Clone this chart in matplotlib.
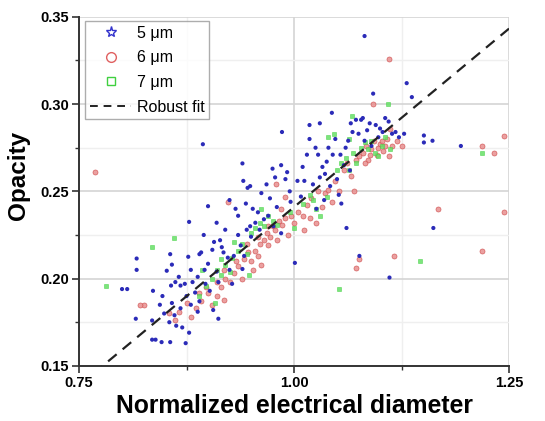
import matplotlib
matplotlib.use("Agg")
import matplotlib.pyplot as plt
from matplotlib.lines import Line2D
from matplotlib.ticker import MultipleLocator
import numpy as np

plt.rcParams['font.family'] = ['Liberation Sans', 'DejaVu Sans']

# ---- data ----
pts5 = [
    (0.800,0.194),(0.806,0.194),(0.817,0.2115),(0.817,0.205),(0.816,0.177),(0.835,0.176),(0.835,0.165),(0.839,0.165),
    (0.846,0.1636),(0.856,0.1636),(0.874,0.163),(0.870,0.172),(0.878,0.169),(0.855,0.175),(0.849,0.180),(0.844,0.185),
    (0.847,0.190),(0.857,0.196),(0.858,0.208),(0.856,0.214),(0.877,0.2125),(0.866,0.201),(0.873,0.197),(0.836,0.193),
    (0.852,0.2045),(0.862,0.198),(0.868,0.196),(0.880,0.205),(0.882,0.198),(0.888,0.201),(0.890,0.214),(0.892,0.215),
    (0.896,0.205),(0.885,0.192),(0.890,0.187),(0.897,0.197),(0.900,0.2085),(0.905,0.2165),(0.907,0.221),(0.914,0.222),
    (0.916,0.218),(0.910,0.204),(0.912,0.198),(0.902,0.193),(0.906,0.182),(0.912,0.177),(0.858,0.186),(0.861,0.179),
    (0.875,0.190),(0.880,0.185),(0.888,0.181),(0.863,0.173),(0.868,0.183),(0.895,0.225),(0.900,0.2415),(0.878,0.2325),
    (0.910,0.232),(0.920,0.228),(0.918,0.215),(0.923,0.212),(0.925,0.205),(0.930,0.213),(0.935,0.225),(0.938,0.219),
    (0.942,0.213),(0.940,0.2055),(0.928,0.197),(0.894,0.277),
    (0.940,0.266),(0.941,0.256),(0.946,0.252),(0.949,0.253),(0.935,0.236),(0.944,0.243),(0.952,0.240),(0.958,0.238),
    (0.955,0.232),(0.949,0.230),(0.962,0.249),(0.968,0.254),(0.972,0.246),(0.975,0.263),(0.985,0.265),(0.986,0.284),
    (0.978,0.258),(0.990,0.257),(0.995,0.250),(0.992,0.261),(0.960,0.228),(0.965,0.234),(0.970,0.236),(0.976,0.230),
    (0.980,0.241),(0.996,0.244),(1.001,0.209),(0.950,0.224),(0.925,0.245),(0.932,0.240),(0.945,0.228),(0.985,0.226),
    (1.010,0.264),(1.012,0.256),(1.018,0.280),(1.018,0.288),(1.025,0.275),(1.028,0.271),(1.030,0.289),(1.033,0.264),
    (1.036,0.260),(1.040,0.275),(1.044,0.295),(1.045,0.271),(1.048,0.280),(1.042,0.253),(1.035,0.245),(1.050,0.257),
    (1.052,0.248),(1.055,0.243),(1.058,0.265),(1.060,0.275),(1.063,0.279),(1.066,0.289),(1.068,0.284),(1.072,0.291),
    (1.075,0.283),(1.078,0.291),(1.080,0.292),(1.082,0.279),(1.085,0.285),(1.088,0.289),(1.092,0.306),(1.095,0.288),
    (1.100,0.286),(1.103,0.284),(1.106,0.292),(1.110,0.290),(1.114,0.283),(1.118,0.284),(1.122,0.281),(1.128,0.283),
    (1.131,0.312),(1.137,0.304),(1.151,0.282),(1.151,0.278),(1.161,0.279),(1.194,0.276),(1.162,0.229),(1.061,0.229),
    (1.076,0.213),(1.111,0.2006),(1.082,0.339),(1.004,0.256),(1.008,0.247),(1.022,0.254),(1.026,0.240),(1.030,0.258),
    (1.038,0.267),(1.015,0.271),(1.054,0.271),(1.065,0.262),(1.090,0.276),(1.098,0.281),
]
pts6 = [
    (0.768,0.261),(1.111,0.326),(1.092,0.300),(1.244,0.282),(1.233,0.272),(1.219,0.276),(1.244,0.238),(1.219,0.216),
    (1.167,0.240),(1.116,0.213),(1.076,0.211),(1.072,0.206),(0.923,0.244),(0.979,0.254),(0.826,0.185),(0.821,0.185),
    (0.855,0.180),(0.862,0.176),(0.866,0.181),(0.875,0.186),(0.880,0.178),(0.886,0.183),(0.892,0.187),(0.900,0.192),
    (0.905,0.185),(0.910,0.190),(0.915,0.195),(0.918,0.188),(0.920,0.200),(0.925,0.198),(0.930,0.203),(0.935,0.207),
    (0.940,0.200),(0.942,0.211),(0.946,0.215),(0.950,0.210),(0.952,0.205),(0.955,0.216),(0.958,0.213),(0.960,0.220),
    (0.962,0.208),(0.965,0.222),(0.968,0.226),(0.970,0.219),(0.972,0.224),(0.975,0.230),(0.978,0.228),(0.980,0.222),
    (0.982,0.233),(0.986,0.231),(0.990,0.235),(0.993,0.225),(0.996,0.236),(1.000,0.232),(1.005,0.238),(1.010,0.236),
    (1.012,0.228),(1.015,0.242),(1.018,0.235),(1.020,0.246),(1.025,0.232),(1.028,0.250),(1.032,0.241),(1.036,0.249),
    (1.040,0.251),(1.044,0.244),(1.048,0.256),(1.052,0.250),(1.058,0.262),(1.062,0.266),(1.066,0.259),(1.070,0.250),
    (1.072,0.268),(1.076,0.270),(1.080,0.272),(1.084,0.276),(1.086,0.268),(1.090,0.274),(1.093,0.279),(1.096,0.271),
    (1.100,0.277),(1.104,0.273),(1.108,0.280),(1.110,0.270),(1.114,0.276),(1.120,0.279),(1.125,0.276),(1.112,0.286),
    (0.990,0.247),(0.985,0.240),(0.970,0.230),(0.958,0.224),(0.945,0.220),(0.932,0.210),(0.918,0.205),(0.910,0.198),
    (0.898,0.195),(0.890,0.192),(1.088,0.271),(1.098,0.275),(1.102,0.279),(1.082,0.266),(1.106,0.276),
]
pts7 = [
    (0.781,0.196),(0.835,0.218),(0.860,0.223),(1.052,0.194),(1.147,0.210),(1.219,0.272),(1.109,0.300),(1.067,0.293),
    (0.890,0.190),(0.898,0.196),(0.905,0.200),(0.910,0.205),(0.915,0.202),(0.920,0.208),(0.928,0.212),(0.935,0.216),
    (0.940,0.220),(0.945,0.214),(0.950,0.226),(0.955,0.229),(0.960,0.232),(0.965,0.230),(0.970,0.236),(0.975,0.233),
    (0.980,0.231),(0.995,0.238),(1.000,0.229),(1.010,0.243),(1.018,0.248),(1.022,0.245),(1.026,0.240),(1.030,0.236),
    (1.038,0.247),(1.050,0.262),(1.055,0.266),(1.060,0.269),(1.064,0.262),(1.068,0.272),(1.072,0.266),(1.078,0.275),
    (1.082,0.278),(1.086,0.274),(1.090,0.279),(1.094,0.272),(1.098,0.270),(1.102,0.276),(1.106,0.281),(1.112,0.274),
    (1.046,0.283),(1.040,0.281),(1.064,0.280),(0.908,0.186),(0.893,0.205),(0.925,0.204),(0.948,0.202),(0.930,0.221),
    (0.962,0.240),(0.915,0.211),
]
x5, y5 = [p[0] for p in pts5], [p[1] for p in pts5]
x6, y6 = [p[0] for p in pts6], [p[1] for p in pts6]
x7, y7 = [p[0] for p in pts7], [p[1] for p in pts7]

fit_slope = 0.409
fit_intercept = -0.168

series_labels = ['5 \u03bcm', '6 \u03bcm', '7 \u03bcm', 'Robust fit']
xticks = [0.75, 1.00, 1.25]
yticks = [0.15, 0.20, 0.25, 0.30, 0.35]

# ---- figure ----
fig = plt.figure(figsize=(5.45, 4.21), dpi=100)
ax = fig.add_axes([0.145, 0.131, 0.789, 0.829])

ax.set_xlim(0.75, 1.25)
ax.set_ylim(0.15, 0.35)

ax.xaxis.set_major_locator(MultipleLocator(0.25))
ax.xaxis.set_minor_locator(MultipleLocator(0.125))
ax.yaxis.set_major_locator(MultipleLocator(0.05))
ax.yaxis.set_minor_locator(MultipleLocator(0.025))
ax.grid(which='major', color='#d4d4d4', linewidth=1.2, zorder=0)
ax.grid(which='minor', color='#efefef', linewidth=1.0, zorder=0)
ax.set_axisbelow(True)

ax.scatter(x5, y5, s=9, color='#2b2bb8', edgecolors='none', zorder=3)
ax.scatter(x6, y6, s=13, color='#e89090', edgecolors='#d05050', linewidths=0.5, alpha=0.85, zorder=2)
ax.scatter(x7, y7, s=10, color='#66e066', edgecolors='#40d040', linewidths=0.4, marker='s', alpha=0.85, zorder=2)

xf = np.array([0.75, 1.25])
ax.plot(xf, fit_slope * xf + fit_intercept, color='#222222', linewidth=1.6, dashes=(5, 3.5), zorder=4)

ax.set_xticks(xticks)
ax.set_xticklabels(['%.2f' % v for v in xticks])
ax.set_yticks(yticks)
ax.set_yticklabels(['%.2f' % v for v in yticks])
for lab in ax.get_xticklabels() + ax.get_yticklabels():
    lab.set_fontweight('bold')
    lab.set_fontsize(10.5)
ax.tick_params(which='major', direction='out', length=5, width=1.2, color='#333333', pad=2)
ax.tick_params(which='minor', direction='out', length=3, width=1.0, color='#333333')

for s in ['top', 'right']:
    ax.spines[s].set_visible(False)
for s in ['left', 'bottom']:
    ax.spines[s].set_linewidth(1.4)
    ax.spines[s].set_color('#333333')

ax.set_xlabel('Normalized electrical diameter', fontsize=17.8, fontweight='bold', labelpad=3)
ax.set_ylabel('Opacity', fontsize=17.5, fontweight='bold', labelpad=6)
ax.yaxis.set_label_coords(-0.115, 0.545)

handles = [
    Line2D([], [], linestyle='none', marker='*', markersize=8, markerfacecolor='none', markeredgecolor='#3333cc'),
    Line2D([], [], linestyle='none', marker='o', markersize=7, markerfacecolor='none', markeredgecolor='#e06060'),
    Line2D([], [], linestyle='none', marker='s', markersize=6, markerfacecolor='none', markeredgecolor='#40d040'),
    Line2D([], [], color='#222222', linewidth=1.4, dashes=(4, 3)),
]
leg = ax.legend(handles, series_labels, loc='upper left', bbox_to_anchor=(0.014, 0.988),
                fontsize=11.5, frameon=True, fancybox=False, edgecolor='#999999',
                handlelength=2.6, handletextpad=0.35, borderpad=0.3, borderaxespad=0,
                labelspacing=0.6)
leg.get_frame().set_linewidth(1.0)

fig.savefig('out.png', dpi=100)
